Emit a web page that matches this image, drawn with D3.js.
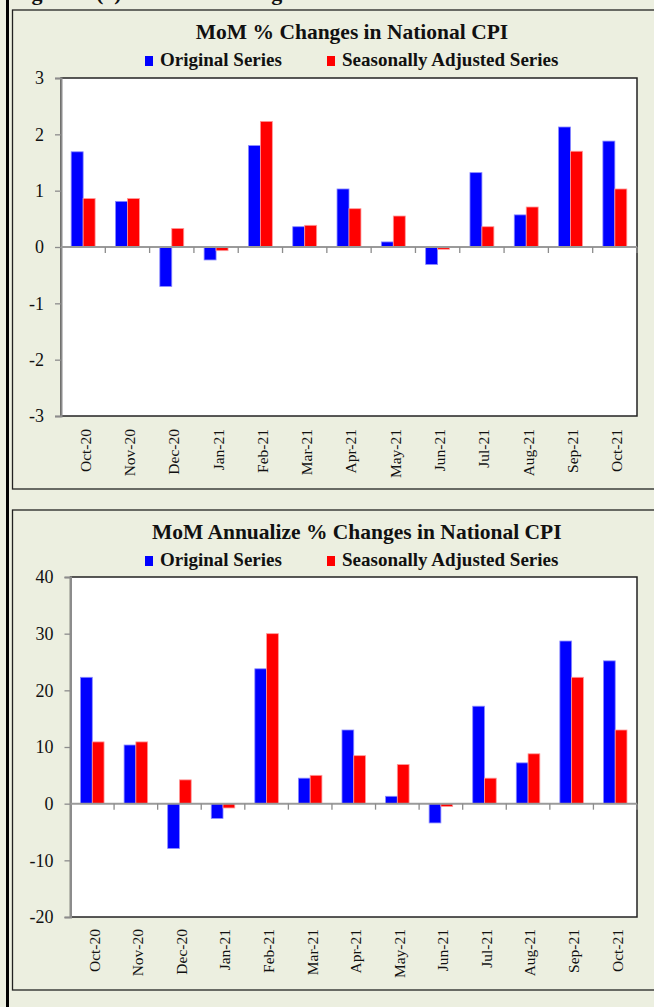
<!DOCTYPE html>
<html>
<head>
<meta charset="utf-8">
<script src="https://cdn.jsdelivr.net/npm/d3@7"></script>
<style>
  html, body { margin: 0; padding: 0; background: #ECEFE0; }
  svg { display: block; }
  text { font-family: "Liberation Serif", "Times New Roman", serif; fill: #111; }
</style>
</head>
<body>
<svg id="chart" width="654" height="1007"></svg>
<script>
// ---- data ----
const categories = ["Oct-20","Nov-20","Dec-20","Jan-21","Feb-21","Mar-21","Apr-21","May-21","Jun-21","Jul-21","Aug-21","Sep-21","Oct-21"];
const seriesNames = ["Original Series", "Seasonally Adjusted Series"];
const seriesColors = ["#0000FF", "#FF0000"];
const momOriginal = [1.69, 0.81, -0.70, -0.23, 1.80, 0.36, 1.03, 0.09, -0.31, 1.32, 0.57, 2.13, 1.88];
const momAdjusted = [0.86, 0.86, 0.33, -0.065, 2.23, 0.385, 0.68, 0.55, -0.04, 0.36, 0.71, 1.70, 1.03];
const annOriginal = [22.3, 10.35, -7.9, -2.6, 23.8, 4.5, 13.0, 1.3, -3.4, 17.2, 7.2, 28.7, 25.2];
const annAdjusted = [10.9, 10.9, 4.2, -0.76, 30.0, 5.0, 8.47, 6.9, -0.5, 4.5, 8.8, 22.3, 13.0];
const momTicks = [-3, -2, -1, 0, 1, 2, 3];
const annTicks = [-20, -10, 0, 10, 20, 30, 40];
const figureCaption = "Figure 2 (a): MoM % Changes in National CPI";
const momTitle = "MoM % Changes in National CPI";
const annTitle = "MoM Annualize % Changes in National CPI";

const svg = d3.select("#chart");

// page background and left rule
svg.append("rect").attr("x", 0).attr("y", 0).attr("width", 654).attr("height", 1007).attr("fill", "#ECEFE0");
svg.append("rect").attr("x", 6).attr("y", 0).attr("width", 3).attr("height", 1007).attr("fill", "#000");

// caption at the very top, cut off by the page edge as in the original
svg.append("text").attr("x", 12).attr("y", -0.5)
  .attr("font-size", 22).attr("font-weight", "bold").text(figureCaption);

function drawPanel(cfg) {
  const g = svg.append("g");
  // panel box
  g.append("rect")
    .attr("x", 12.5).attr("y", cfg.boxTop)
    .attr("width", 700).attr("height", cfg.boxBottom - cfg.boxTop)
    .attr("fill", "#ECEFE0").attr("stroke", "#222").attr("stroke-width", 1.3);

  const x = d3.scaleBand().domain(categories)
    .range([cfg.x0, cfg.x1]).paddingInner(0.46).paddingOuter(0.23);
  const xs = d3.scaleBand().domain([0, 1]).range([0, x.bandwidth()]);
  const y = d3.scaleLinear().domain(cfg.domain).range([cfg.y1, cfg.y0]);
  const step = (cfg.x1 - cfg.x0) / categories.length;

  // plot area
  g.append("rect")
    .attr("x", cfg.x0).attr("y", cfg.y0)
    .attr("width", cfg.x1 - cfg.x0).attr("height", cfg.y1 - cfg.y0)
    .attr("fill", "#fff").attr("stroke", "#222").attr("stroke-width", 1.5);

  // title
  g.append("text").attr("x", (cfg.x0 + cfg.x1) / 2 + 3).attr("y", cfg.titleY)
    .attr("text-anchor", "middle").attr("font-size", 21.5).attr("font-weight", "bold")
    .text(cfg.title);

  // legend
  const legX = [145, 327];
  seriesNames.forEach((name, i) => {
    g.append("rect").attr("x", legX[i]).attr("y", cfg.legendY - 10)
      .attr("width", 8).attr("height", 10).attr("fill", seriesColors[i]);
    g.append("text").attr("x", legX[i] + 15).attr("y", cfg.legendY)
      .attr("font-size", 19).attr("font-weight", "bold").text(name);
  });

  // bars
  const series = [cfg.original, cfg.adjusted];
  const strokes = ["#8A8AFF", "#FF9A9A"];
  series.forEach((vals, si) => {
    g.append("g").selectAll("rect").data(vals).join("rect")
      .attr("x", (d, i) => x(categories[i]) + xs(si))
      .attr("width", xs.bandwidth())
      .attr("y", d => y(Math.max(0, d)))
      .attr("height", d => Math.abs(y(d) - y(0)))
      .attr("fill", seriesColors[si])
      .attr("stroke", strokes[si]).attr("stroke-width", 0.8);
  });

  // y axis
  const yAxis = d3.axisLeft(y).tickValues(cfg.ticks).tickSize(6).tickPadding(11)
    .tickFormat(d => String(d));
  const ya = g.append("g").attr("transform", `translate(${cfg.x0},0)`).call(yAxis);
  ya.select(".domain").attr("stroke", "#8C8C8C").attr("stroke-width", 2);
  ya.selectAll(".tick line").attr("stroke", "#8C8C8C").attr("stroke-width", 1.3);
  ya.selectAll(".tick text").attr("font-size", 18).attr("fill", "#111")
    .attr("font-family", "'Liberation Serif', 'Times New Roman', serif");

  // zero line with category ticks
  const xAxis = d3.axisBottom(x).tickSize(0).tickFormat("");
  const xa = g.append("g").attr("transform", `translate(0,${y(0)})`).call(xAxis);
  xa.select(".domain").attr("stroke", "#9A9A9A").attr("stroke-width", 2)
    .attr("d", `M${cfg.x0},0H${cfg.x1}`);
  xa.selectAll(".tick").remove();
  xa.selectAll("line.cat").data(d3.range(1, categories.length + 1)).join("line")
    .attr("class", "cat")
    .attr("x1", i => cfg.x0 + i * step).attr("x2", i => cfg.x0 + i * step)
    .attr("y1", 0).attr("y2", 6)
    .attr("stroke", "#8C8C8C").attr("stroke-width", 1.3);

  // category labels
  g.append("g").selectAll("text").data(categories).join("text")
    .attr("transform", d => `translate(${x(d) + x.bandwidth() / 2 + 2},${cfg.labelTop}) rotate(-90)`)
    .attr("text-anchor", "end").attr("dy", "0.35em")
    .attr("font-size", 15.5).text(d => d);
}

drawPanel({
  boxTop: 10, boxBottom: 489,
  x0: 61, x1: 637, y0: 78, y1: 416,
  domain: [-3, 3], ticks: momTicks,
  titleY: 39, legendY: 66, labelTop: 429,
  title: momTitle, original: momOriginal, adjusted: momAdjusted
});

drawPanel({
  boxTop: 510, boxBottom: 990,
  x0: 70.5, x1: 637, y0: 577, y1: 917,
  domain: [-20, 40], ticks: annTicks,
  titleY: 539, legendY: 566, labelTop: 929,
  title: annTitle, original: annOriginal, adjusted: annAdjusted
});
</script>
</body>
</html>
